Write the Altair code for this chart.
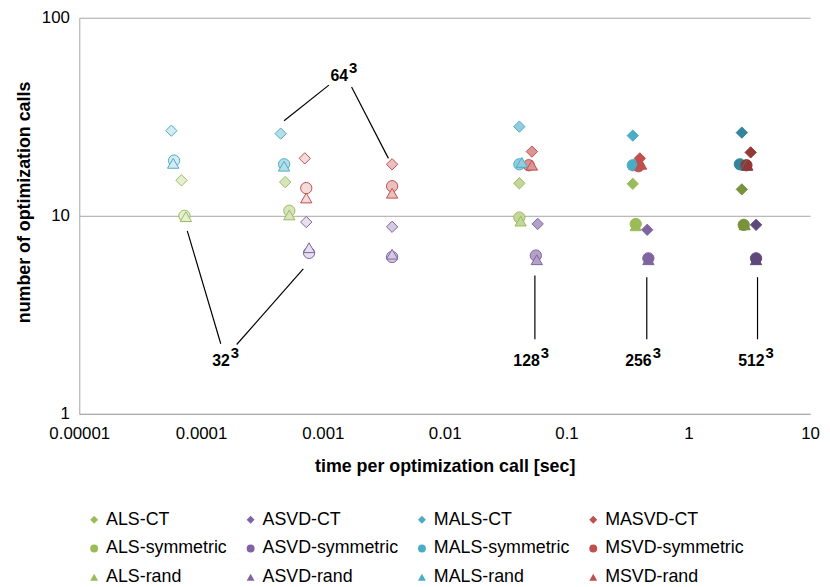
import altair as alt
import pandas as pd

# ---------------- data ----------------
series = ["ALS-CT", "ASVD-CT", "MALS-CT", "MASVD-CT",
          "ALS-symmetric", "ASVD-symmetric", "MALS-symmetric", "MSVD-symmetric",
          "ALS-rand", "ASVD-rand", "MALS-rand", "MSVD-rand"]
kinds = ["CT"] * 4 + ["symmetric"] * 4 + ["rand"] * 4
families = ["ALS", "ASVD", "MALS", "MSVD"] * 3
sizes = ["32", "64", "128", "256", "512"]

# time per optimization call [sec], in series order
time_32 = [6.9e-5, 7.3e-4, 5.7e-5, 7.1e-4, 7.3e-5, 7.7e-4, 6.0e-5, 7.3e-4, 7.5e-5, 7.7e-4, 5.9e-5, 7.3e-4]
time_64 = [4.9e-4, 3.7e-3, 4.5e-4, 3.7e-3, 5.3e-4, 3.7e-3, 4.8e-4, 3.7e-3, 5.3e-4, 3.7e-3, 4.8e-4, 3.7e-3]
time_128 = [0.041, 0.058, 0.041, 0.052, 0.041, 0.056, 0.041, 0.049, 0.042, 0.057, 0.043, 0.052]
time_256 = [0.35, 0.46, 0.35, 0.40, 0.37, 0.47, 0.35, 0.39, 0.37, 0.47, 0.36, 0.41]
time_512 = [2.75, 3.6, 2.75, 3.25, 2.85, 3.6, 2.65, 3.0, 2.9, 3.6, 3.0, 3.05]

# number of optimization calls
calls_32 = [15.1, 9.3, 26.9, 19.5, 10.0, 6.5, 19.0, 13.8, 9.9, 6.9, 18.4, 12.3]
calls_64 = [14.8, 8.8, 26.0, 18.2, 10.6, 6.2, 18.2, 14.1, 10.1, 6.4, 17.8, 13.0]
calls_128 = [14.6, 9.1, 28.2, 21.1, 9.8, 6.3, 18.2, 18.0, 9.4, 6.0, 18.6, 18.0]
calls_256 = [14.5, 8.5, 25.4, 19.5, 9.1, 6.1, 18.0, 17.8, 8.9, 6.0, 18.2, 18.2]
calls_512 = [13.6, 9.0, 26.3, 20.9, 9.0, 6.1, 18.2, 18.0, 9.0, 6.0, 18.0, 18.0]

times = {"32": time_32, "64": time_64, "128": time_128, "256": time_256, "512": time_512}
calls = {"32": calls_32, "64": calls_64, "128": calls_128, "256": calls_256, "512": calls_512}

# annotation labels and leader lines
ann_base = ["32", "64", "128", "256", "512"]
ann_x = [1.72e-4, 1.61e-3, 0.0603, 0.50, 4.23]
ann_y = [1.84, 51.0, 1.84, 1.84, 1.84]

lead_x1 = [1.45e-4, 1.96e-4, 1.12e-3, 1.72e-3, 0.055, 0.456, 3.7]
lead_y1 = [2.26, 2.24, 45.7, 44.7, 2.38, 2.38, 2.38]
lead_x2 = [7.7e-5, 6.9e-4, 4.8e-4, 3.45e-3, 0.055, 0.456, 3.7]
lead_y2 = [8.4, 5.4, 30.2, 19.5, 5.0, 4.9, 4.9]

x_ticks = [1e-5, 1e-4, 1e-3, 1e-2, 1e-1, 1, 10]
y_ticks = [1, 10, 100]

# ---------------- styles ----------------
base_col = {"ALS": "#9BBB59", "ASVD": "#8064A2", "MALS": "#4BACC6", "MSVD": "#C0504D"}
fill_shade = {
    "32": {"ALS": "#E6EED5", "ASVD": "#E5E0EC", "MALS": "#D4EBF2", "MSVD": "#F2DCDB"},
    "64": {"ALS": "#D7E4BD", "ASVD": "#D3CAE0", "MALS": "#B7DEE8", "MSVD": "#E9C0BF"},
    "128": {"ALS": "#C3D69B", "ASVD": "#B3A2C7", "MALS": "#93CDDD", "MSVD": "#D99694"},
    "256": base_col,
    "512": {"ALS": "#77933C", "ASVD": "#5F497A", "MALS": "#31859C", "MSVD": "#953735"},
}
stroke_shade = {"32": base_col, "64": base_col, "128": base_col, "256": base_col,
                "512": fill_shade["512"]}
shape_of = {"CT": "diamond", "symmetric": "circle", "rand": "triangle-up"}

rows = []
k = 0
for i, s in enumerate(series):
    for sz in sizes:
        rows.append({
            "series": s, "kind": kinds[i], "family": families[i], "size": sz,
            "time": times[sz][i], "calls": calls[sz][i],
            "fillc": fill_shade[sz][families[i]], "strokec": stroke_shade[sz][families[i]],
            "ord": k,
        })
        k += 1
df = pd.DataFrame(rows)

df_lead = pd.DataFrame({"x1": lead_x1, "y1": lead_y1, "x2": lead_x2, "y2": lead_y2})
df_ann = pd.DataFrame({"x": ann_x, "y": ann_y, "base": ann_base, "sup": ["3"] * len(ann_base)})

FONT = "Liberation Sans"
GREY = "#a6a6a6"

xscale = alt.Scale(type="log", domain=[1e-5, 10], nice=False)
yscale = alt.Scale(type="log", domain=[1, 100], nice=False)

x_axis = alt.Axis(values=x_ticks, format=".5~f", grid=False, ticks=False,
                  labelFlush=False, labelOverlap=False,
                  domainColor=GREY, labelFontSize=17, labelColor="black", labelPadding=12,
                  labelFont=FONT, title="time per optimization call [sec]",
                  titleFontSize=18, titleFont=FONT, titleFontWeight="bold", titleColor="black",
                  titleY=53, titleBaseline="middle")
y_axis = alt.Axis(values=y_ticks, format="d", grid=True, gridColor=GREY, ticks=False,
                  labelFlush=False, labelOverlap=False,
                  domainColor=GREY, labelFontSize=17, labelColor="black", labelPadding=10,
                  labelFont=FONT, title="number of optimization calls",
                  titleFontSize=18, titleFont=FONT, titleFontWeight="bold", titleColor="black",
                  titleX=-55, titleY=186, titleBaseline="middle")

legend_colors = [base_col[f] for f in families]
legend_shapes = [shape_of[kd] for kd in kinds]
leg = alt.Legend(title=None, orient="none", legendX=6, legendY=498, columns=4,
                 direction="horizontal",
                 labelFontSize=18, labelFont=FONT, labelColor="black", symbolSize=64,
                 rowPadding=11, columnPadding=14, labelOffset=3, symbolOpacity=1,
                 symbolStrokeWidth=0)
shape_scale = alt.Scale(domain=series, range=legend_shapes)
color_scale = alt.Scale(domain=series, range=legend_colors)

legend_layer = alt.Chart(df).mark_point(filled=True, opacity=0, size=1).encode(
    x=alt.X("time:Q", scale=xscale, axis=x_axis),
    y=alt.Y("calls:Q", scale=yscale, axis=y_axis),
    color=alt.Color("series:N", scale=color_scale, legend=leg),
    shape=alt.Shape("series:N", scale=shape_scale, legend=leg),
)

points = alt.Chart(df).mark_point(filled=True, size=130, strokeWidth=1, opacity=1).encode(
    x=alt.X("time:Q", scale=xscale, axis=x_axis),
    y=alt.Y("calls:Q", scale=yscale, axis=y_axis),
    shape=alt.Shape("series:N", scale=shape_scale, legend=leg),
    fill=alt.Fill("fillc:N", scale=None),
    stroke=alt.Stroke("strokec:N", scale=None),
    order=alt.Order("ord:Q"),
)

leaders = alt.Chart(df_lead).mark_rule(color="black", strokeWidth=1.2).encode(
    x=alt.X("x1:Q", scale=xscale, axis=x_axis),
    y=alt.Y("y1:Q", scale=yscale, axis=y_axis),
    x2="x2:Q",
    y2="y2:Q",
)

ann_text = alt.Chart(df_ann).mark_text(align="right", baseline="middle", fontSize=16,
                                       fontWeight="bold", font=FONT, color="black").encode(
    x=alt.X("x:Q", scale=xscale, axis=x_axis),
    y=alt.Y("y:Q", scale=yscale, axis=y_axis),
    text="base:N",
)
ann_sup = alt.Chart(df_ann).mark_text(align="left", baseline="middle", fontSize=15, dx=1, dy=-8,
                                      fontWeight="bold", font=FONT, color="black").encode(
    x=alt.X("x:Q", scale=xscale, axis=x_axis),
    y=alt.Y("y:Q", scale=yscale, axis=y_axis),
    text="sup:N",
)

chart = alt.layer(legend_layer, leaders, points, ann_text, ann_sup).properties(
    width=738, height=400,
    autosize=alt.AutoSizeParams(type="none"),
    padding={"left": 72, "top": 7, "right": 12, "bottom": 172},
).configure(font=FONT).configure_view(stroke=None)

chart.save("out.html", embed_options={"renderer": "svg", "actions": False})
